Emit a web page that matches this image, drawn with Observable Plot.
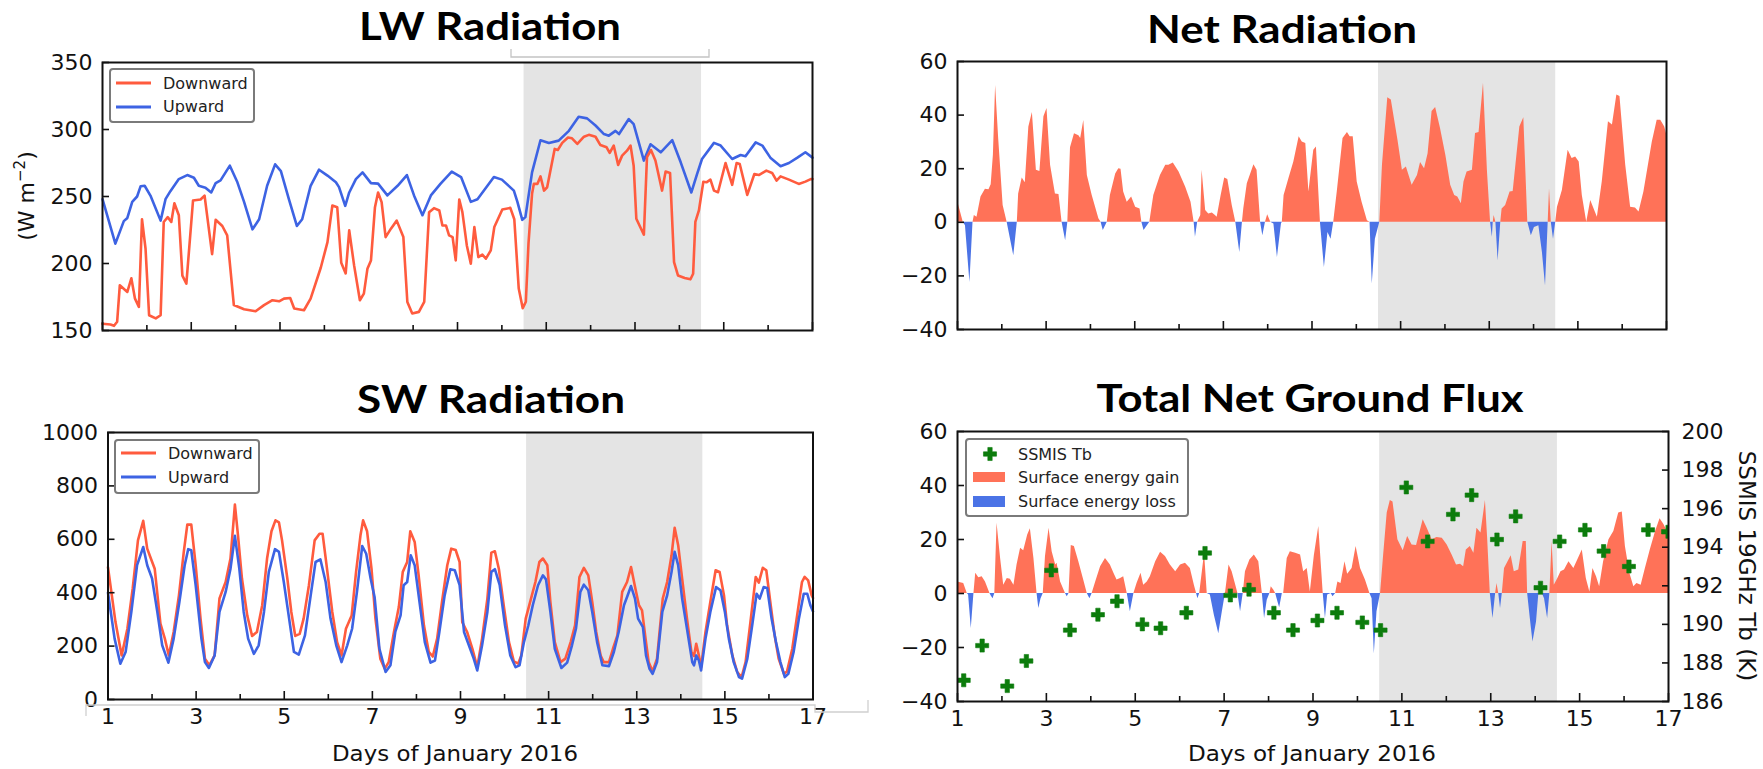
<!DOCTYPE html>
<html><head><meta charset="utf-8">
<script src="https://cdn.jsdelivr.net/npm/d3@7"></script>
<script src="https://cdn.jsdelivr.net/npm/@observablehq/plot@0.6"></script>
<style>
html,body{margin:0;padding:0;background:#fff;}
#root{position:relative;width:1763px;height:769px;overflow:hidden;background:#fff;}
#overlay{position:absolute;left:0;top:0;pointer-events:none;}
</style></head><body><div id="root"></div>
<script>
// ---------- tick labels / categories ----------
const oddDays = [1,3,5,7,9,11,13,15,17];
const evenDays = [2,4,6,8,10,12,14,16];
const lwTicks = [150,200,250,300,350];
const netTicks = [-40,-20,0,20,40,60];
const swTicks = [0,200,400,600,800,1000];
const tbTicks = [186,188,190,192,194,196,198,200];
const shadeStart = [10.5];
const shadeEnd = [14.5];

// ---------- LW Radiation ----------
const lwDownDay = [1.0,1.18,1.26,1.33,1.39,1.56,1.65,1.73,1.82,1.89,1.97,2.05,2.20,2.31,2.38,2.47,2.55,2.62,2.72,2.80,2.89,3.04,3.21,3.30,3.47,3.55,3.70,3.81,3.96,4.19,4.45,4.64,4.83,4.98,5.09,5.23,5.32,5.54,5.69,5.92,6.07,6.18,6.29,6.38,6.48,6.56,6.67,6.80,6.89,6.97,7.05,7.14,7.21,7.29,7.38,7.50,7.63,7.78,7.87,7.98,8.13,8.25,8.36,8.47,8.59,8.66,8.74,8.81,8.89,8.96,9.04,9.11,9.21,9.30,9.38,9.47,9.56,9.64,9.75,9.83,10.01,10.19,10.28,10.38,10.47,10.54,10.60,10.68,10.72,10.80,10.87,10.95,11.02,11.19,11.26,11.36,11.49,11.58,11.70,11.85,11.96,12.11,12.22,12.36,12.43,12.52,12.62,12.71,12.82,12.90,12.97,13.03,13.20,13.27,13.36,13.46,13.61,13.69,13.79,13.88,13.97,14.12,14.25,14.31,14.36,14.44,14.54,14.61,14.70,14.78,14.87,15.04,15.19,15.29,15.36,15.53,15.69,15.79,15.96,16.09,16.19,16.28,16.47,16.69,16.84,16.96,17.0];
const lwDownVal = [155,154.5,153.5,156.5,183.7,178.8,189,174,167.6,233,211,161.4,159,161.4,231,234.6,231,245,236,191,185,247,247.8,250.7,207,232.6,228,221,169,165.9,164.4,168.9,172.6,171.8,173.8,174.3,166.4,165.1,173.8,197,216,243.3,242,200.6,192.6,224.7,198.6,172.6,177.5,196,202.3,242,253,245.8,219.7,226,232,219.7,171.3,162.7,163.9,171.3,238.3,241.3,239.6,228.4,228.4,221,219.7,202.3,247.8,238.3,213.5,199.9,227.2,204.8,206.6,203.6,209.8,227.2,240.3,241.5,233,181.3,166.6,171.5,215,252,259.4,259.4,265,254.4,256.9,285.5,284.7,290,294,293.4,289.2,294.6,296,294.6,288.4,286.7,282.5,288,273.6,280.5,284.2,288,273,233.4,221.5,279.3,284.7,276.8,254.4,268.6,267.6,201,191,189.2,188.2,192.4,231,239.6,261,260.6,262.6,254.4,253.2,275,258.7,275,274.3,251.2,266.8,266,269.3,267.6,261.9,265,262.6,259.4,261.1,263,263];
const lwUpDay = [1.0,1.29,1.48,1.56,1.67,1.78,1.86,1.95,2.08,2.31,2.42,2.53,2.72,2.91,3.06,3.17,3.32,3.45,3.55,3.66,3.87,4.04,4.19,4.38,4.53,4.71,4.89,5.02,5.20,5.38,5.50,5.69,5.88,6.07,6.26,6.33,6.47,6.56,6.71,6.86,7.05,7.21,7.42,7.65,7.86,8.02,8.21,8.40,8.62,8.87,9.08,9.30,9.45,9.60,9.82,10.0,10.27,10.35,10.46,10.53,10.68,10.87,11.06,11.28,11.51,11.73,11.92,12.11,12.30,12.41,12.56,12.64,12.86,12.97,13.2,13.35,13.58,13.84,14.03,14.27,14.40,14.51,14.78,14.93,15.19,15.38,15.49,15.72,15.87,16.05,16.28,16.47,16.66,16.84,17.0];
const lwUpVal = [248,214.8,231.6,234,246,250,257.7,258,250.7,232,248,254,263,266,264,258,256.6,253,260,262,273,260.6,246,225.5,233,258,274,269,248,228,233,258,270,265.6,260.6,257,243,253,263,268,260,259.6,250.8,258,266,250.8,236,250.8,259.6,268.6,264.5,246,248,254.6,264.5,262.6,254.4,246,232.6,234.6,268,292,290,291.7,299,309.5,308.3,303,296.6,295.4,299,296.6,307.8,304,276.8,289,283,292,275.5,253,266.9,278,290,288,278,281,280,290.4,288,279,272.6,275,279,283,279];

// ---------- Net Radiation ----------
const netDay = [1.0,1.13,1.18,1.28,1.35,1.38,1.44,1.53,1.63,1.71,1.76,1.81,1.86,1.93,2.03,2.12,2.27,2.35,2.38,2.46,2.53,2.61,2.69,2.78,2.86,2.95,3.02,3.10,3.21,3.29,3.36,3.44,3.49,3.55,3.64,3.74,3.78,3.85,3.93,4.04,4.19,4.24,4.29,4.38,4.45,4.57,4.64,4.69,4.75,4.83,4.93,5.02,5.12,5.16,5.21,5.34,5.43,5.58,5.70,5.77,5.87,6.0,6.15,6.27,6.34,6.37,6.42,6.49,6.52,6.6,6.67,6.75,6.82,6.86,6.95,7.03,7.10,7.20,7.28,7.37,7.43,7.46,7.54,7.69,7.76,7.84,7.89,7.95,8.0,8.07,8.14,8.22,8.31,8.33,8.37,8.48,8.59,8.71,8.78,8.86,8.93,9.04,9.10,9.19,9.28,9.36,9.43,9.49,9.57,9.70,9.80,9.86,9.93,10.02,10.13,10.25,10.31,10.36,10.43,10.53,10.59,10.71,10.79,10.94,11.04,11.13,11.26,11.38,11.45,11.54,11.62,11.71,11.79,11.90,12.02,12.13,12.22,12.29,12.37,12.43,12.50,12.62,12.69,12.77,12.87,12.96,13.03,13.07,13.09,13.11,13.15,13.20,13.26,13.29,13.37,13.47,13.54,13.69,13.78,13.87,13.95,14.02,14.12,14.20,14.27,14.33,14.36,14.40,14.45,14.50,14.54,14.65,14.78,14.87,14.95,15.03,15.10,15.20,15.29,15.44,15.55,15.69,15.78,15.88,15.95,16.08,16.19,16.30,16.38,16.49,16.68,16.79,16.87,16.96,17.0];
const netVal = [8,0,-1.3,-22.5,0,2.5,1.9,9.4,12.3,12.1,14,25,51,31,6.3,0,-12.5,0,10.6,16.5,14.8,35.6,41,19.4,19,39.4,42.5,21.3,10.6,10.4,0,-6.9,0,27.8,33,32.3,31.3,38,17.5,10,1.3,0,-3.1,0,10,18,20,19.8,11.3,7.5,9.4,5.6,5,0,-3.1,0,10,17.5,21.3,21.3,22.1,18.8,13.1,7.5,0,-5.6,0,2.5,19.4,4.4,3.1,3.5,2.5,1.9,10,16.5,16,6.3,0,-11.3,0,5,14.4,21.5,19.4,0,-5,0,2.8,0,-0.6,-13.1,-0.6,0,10,16.3,22.5,31.9,30,29.4,11.3,26.9,28.1,0,-16.9,-3.8,-6.3,0,11.3,31.3,33.5,31.9,31.9,15,7.5,0.6,0,-23,-6.3,0,21.3,46.5,45.6,30.6,19.4,20.6,13.8,17.5,22.3,20,25.6,41.3,42.8,35,25,13.8,10,9.4,6.9,15,18.8,19.4,33.1,33.5,51.9,18.8,0,-5.6,0,2.5,0,-14.4,0,5,6.3,11.3,11.5,35.6,39,0,-5,-1.9,-1.3,-11.3,-23.8,0,12.5,0,-6.3,0,5.6,11.9,26.9,23.8,24.4,22.5,10,0,8.1,1.9,15,37.5,36.3,47.5,46.9,21.3,5.6,5.3,3.8,11.3,30,38.1,38.1,35.6,33];

// ---------- SW Radiation ----------
const swDownDay = [1.0,1.17,1.31,1.44,1.56,1.68,1.80,1.89,1.96,2.06,2.19,2.29,2.38,2.49,2.61,2.72,2.80,2.89,2.99,3.10,3.20,3.30,3.42,3.53,3.67,3.78,3.88,3.95,4.04,4.16,4.27,4.38,4.50,4.61,4.71,4.80,4.88,4.95,5.07,5.16,5.25,5.35,5.44,5.56,5.69,5.80,5.87,5.97,6.09,6.20,6.30,6.40,6.53,6.63,6.73,6.79,6.88,6.98,7.07,7.18,7.28,7.37,7.49,7.60,7.69,7.79,7.86,7.96,8.05,8.17,8.28,8.37,8.47,8.58,8.70,8.79,8.89,8.98,9.04,9.15,9.27,9.38,9.49,9.61,9.70,9.78,9.87,9.98,10.1,10.21,10.31,10.38,10.48,10.59,10.70,10.79,10.87,10.97,11.04,11.14,11.27,11.38,11.50,11.60,11.70,11.80,11.90,11.99,12.08,12.18,12.25,12.37,12.46,12.56,12.67,12.78,12.87,12.97,13.05,13.12,13.2,13.27,13.36,13.46,13.59,13.69,13.79,13.86,13.94,14.03,14.14,14.24,14.30,14.35,14.41,14.46,14.56,14.67,14.79,14.88,14.98,15.05,15.17,15.28,15.38,15.47,15.58,15.70,15.77,15.86,15.94,16.04,16.13,16.22,16.34,16.41,16.53,16.64,16.75,16.81,16.89,16.97,17.0];
const swDownVal = [495,290,165,265,415,596,669,565,534,490,284,228,165,253,390,553,655,655,503,303,153,128,165,378,440,528,730,615,453,315,238,253,353,528,630,671,663,596,453,328,238,246,303,428,596,621,621,490,328,215,165,265,315,478,615,671,630,490,303,153,115,140,253,346,478,515,630,590,465,278,178,161,228,365,503,565,560,515,290,253,190,121,228,378,550,555,490,353,215,143,134,165,303,371,440,515,528,503,365,215,140,153,215,278,459,493,465,365,253,165,140,140,190,240,403,440,496,415,353,334,228,140,105,153,378,440,540,643,578,453,303,178,163,209,165,121,253,365,484,478,390,278,165,103,84,140,290,459,438,493,484,353,240,153,96,105,190,315,440,459,446,390,380];
const swUpDay = [1.0,1.15,1.28,1.40,1.53,1.66,1.80,1.89,2.0,2.12,2.23,2.37,2.49,2.62,2.74,2.82,2.89,2.99,3.12,3.20,3.29,3.42,3.53,3.67,3.78,3.88,3.98,4.08,4.18,4.31,4.42,4.54,4.65,4.79,4.88,4.99,5.10,5.22,5.33,5.47,5.60,5.71,5.82,5.94,6.05,6.18,6.30,6.43,6.54,6.65,6.77,6.86,6.96,7.05,7.16,7.30,7.41,7.52,7.64,7.71,7.79,7.87,7.96,8.07,8.19,8.32,8.42,8.52,8.64,8.77,8.87,8.98,9.08,9.19,9.30,9.38,9.49,9.61,9.70,9.78,9.89,10.01,10.13,10.25,10.34,10.44,10.54,10.64,10.76,10.87,10.94,11.04,11.14,11.29,11.42,11.53,11.62,11.72,11.80,11.90,11.99,12.10,12.22,12.37,12.48,12.59,12.71,12.78,12.87,12.96,13.03,13.14,13.21,13.29,13.36,13.46,13.58,13.69,13.79,13.86,13.94,14.03,14.14,14.26,14.30,14.35,14.41,14.46,14.56,14.67,14.80,14.90,15.0,15.09,15.20,15.32,15.39,15.51,15.62,15.72,15.79,15.88,15.96,16.06,16.16,16.26,16.36,16.44,16.56,16.68,16.79,16.87,16.94,17.0];
const swUpVal = [400,228,134,178,328,503,571,503,453,328,203,138,228,365,503,563,559,428,228,140,118,165,328,403,490,613,490,328,228,171,203,328,478,563,553,440,315,178,168,240,390,515,525,440,303,203,140,203,265,403,575,546,453,384,190,103,128,253,315,428,440,540,503,365,215,138,146,253,390,488,484,428,253,203,153,109,203,328,478,488,428,278,165,121,128,215,278,353,428,465,450,328,190,118,138,203,265,403,430,409,328,215,128,125,178,253,353,384,425,378,303,271,165,115,96,140,328,390,478,553,503,378,265,140,128,165,146,109,228,328,421,409,328,228,140,84,78,153,278,396,378,421,418,303,215,140,84,96,178,303,396,396,353,330];

// ---------- Total Net Ground Flux ----------
const gndDay = [1.0,1.14,1.22,1.25,1.31,1.37,1.41,1.48,1.555,1.63,1.73,1.76,1.80,1.84,1.89,1.97,2.04,2.12,2.19,2.27,2.34,2.42,2.49,2.58,2.64,2.72,2.79,2.83,2.88,2.93,2.98,3.06,3.13,3.21,3.24,3.32,3.43,3.47,3.51,3.56,3.63,3.73,3.84,3.92,3.98,4.03,4.11,4.22,4.33,4.44,4.52,4.59,4.67,4.74,4.82,4.89,4.97,5.04,5.13,5.19,5.27,5.34,5.46,5.57,5.68,5.79,5.91,6.02,6.13,6.24,6.33,6.38,6.41,6.45,6.51,6.56,6.62,6.69,6.78,6.88,6.96,7.03,7.11,7.18,7.28,7.31,7.37,7.43,7.48,7.58,7.68,7.78,7.86,7.91,7.97,8.03,8.06,8.12,8.16,8.21,8.25,8.31,8.34,8.42,8.49,8.61,8.72,8.79,8.87,8.94,9.03,9.13,9.23,9.28,9.33,9.41,9.45,9.51,9.56,9.63,9.72,9.78,9.88,9.97,10.07,10.18,10.28,10.33,10.38,10.44,10.52,10.59,10.67,10.74,10.80,10.91,11.03,11.13,11.23,11.33,11.48,11.57,11.68,11.79,11.91,12.02,12.13,12.23,12.32,12.39,12.45,12.54,12.62,12.69,12.78,12.88,12.93,12.99,13.05,13.11,13.14,13.18,13.22,13.26,13.31,13.41,13.46,13.53,13.63,13.73,13.80,13.83,13.89,13.95,14.03,14.08,14.16,14.21,14.28,14.33,14.38,14.43,14.51,14.58,14.66,14.76,14.87,14.94,15.06,15.15,15.23,15.30,15.38,15.45,15.54,15.66,15.77,15.88,15.96,16.03,16.13,16.22,16.29,16.385,16.48,16.59,16.71,16.81,16.90,17.0];
const gndVal = [4.3,3.7,0,-0.6,-13,0,7.5,5.8,6.2,4.3,0,-0.9,-1.9,0,26,13,3.1,5.6,5.3,3.1,10.6,16.8,15.8,21.7,24,13,0,-5.6,-1.9,0,13.7,24.2,15.5,10.6,11.2,4.3,0,-1.2,0,17.8,17.4,11.8,5,0,-1.9,0,4.3,9.9,13,10.6,7.5,5,5.6,6.2,0,-6.8,0,3.7,7.5,3.1,4.3,6.2,11.8,15.3,13.7,10.6,8.1,10.6,11.2,9.3,3.1,0,-1.9,0,8.1,14.9,0,-0.6,-8.1,-14.9,-6.8,0,10.6,8.1,1.9,0,-6.8,0,8.1,12.4,14.3,11.8,0,-9.3,-2.5,0,2.5,1.2,0,-3.1,-5.3,0,0,13,15.5,14.9,14.3,8.1,9.3,0.6,14,24.8,0,-9.3,-0.6,0,-1.2,0,4.3,3.7,11.8,7.1,9.3,17.4,9.3,5,0,-1.9,-22.4,-6.8,0,14.3,29.8,34.4,33.9,19.9,15.8,21.1,18,17.8,27.3,24.2,19.9,20.7,20.5,18,14.3,10.6,10.8,9.9,16.1,17.4,14.9,24.2,22.4,34.4,20.5,0,-9.3,0,3.7,0,-5.6,0,9.3,12.4,14,8.1,8.7,19.3,19.3,0,-9.3,-18,-10.6,-0.6,0,-1.9,-9.3,0,19.3,3.1,5.6,8.1,8.7,11.8,9.3,11.8,16.1,5.6,0.6,9.3,6.2,2.5,11.8,19.9,23,29.8,30.2,17.4,7.5,2.5,3.7,3.1,9.3,16.1,23,27.7,25.5,22];
const tbDay = [1.14,1.555,2.12,2.55,3.11,3.53,4.16,4.59,5.16,5.57,6.15,6.57,7.14,7.56,8.12,8.55,9.1,9.54,10.11,10.52,11.10,11.58,12.15,12.57,13.14,13.56,14.12,14.55,15.12,15.54,16.11,16.54,16.99];
const tbVal = [187.1,188.9,186.8,188.1,192.8,189.7,190.5,191.2,190.0,189.8,190.6,193.7,191.5,191.8,190.6,189.7,190.2,190.6,190.1,189.7,197.1,194.3,195.7,196.7,194.4,195.6,191.9,194.3,194.9,193.8,193.0,194.9,194.8];

// ---------- colours ----------
const RED_LINE = "#ff5b3e", BLUE_LINE = "#3d63e3";
const RED_FILL = "#ff7258", BLUE_FILL = "#4b73e6";
const GREEN = "#0c7c0c", SHADE = "#e4e4e4";

// ---------- build ----------
const root = document.getElementById("root");
const zip = (xs, ys) => xs.map((d, i) => ({day: d, v: ys[i]}));
const tbToFlux = t => -40 + (t - 186) * 100 / 14;
const plainFmt = d => String(d).replace("-", "\u2212");

function panel({left, top, width, height, fx1, fx2, fy1, fy2, ydomain, yticks, marks, xlabels, extraAxes = []}) {
  const chart = Plot.plot({
    width, height,
    marginLeft: fx1, marginRight: width - fx2, marginTop: fy1, marginBottom: height - fy2,
    x: {domain: [1, 17]},
    y: {domain: ydomain},
    style: {fontFamily: "DejaVu Sans", fontSize: "22px", color: "#111", background: "transparent", overflow: "visible"},
    marks: [
      Plot.rect(shadeStart, {x1: d => d, x2: (d, i) => shadeEnd[i], fill: SHADE}),
      ...marks,
      Plot.frame({stroke: "#111", strokeWidth: 2}),
      Plot.axisX({ticks: oddDays, tickSize: -8, strokeWidth: 1.6, fill: "none", label: null}),
      Plot.axisX({ticks: evenDays, tickSize: -5, strokeWidth: 1.6, fill: "none", label: null}),
      xlabels ? Plot.axisX({ticks: oddDays, tickSize: 0, tickPadding: 9, label: null, fontSize: 22, tickFormat: plainFmt}) : null,
      Plot.axisY({ticks: yticks, tickSize: -7, strokeWidth: 1.6, fill: "none", label: null}),
      Plot.axisY({ticks: yticks, tickSize: 0, tickPadding: 10, label: null, fontSize: 22, tickFormat: plainFmt}),
      ...extraAxes
    ]
  });
  chart.style.position = "absolute";
  chart.style.left = left + "px";
  chart.style.top = top + "px";
  root.appendChild(chart);
}

// LW
panel({left: 0, top: 0, width: 880, height: 380, fx1: 102, fx2: 812, fy1: 62, fy2: 330,
  ydomain: [150, 350], yticks: lwTicks, xlabels: false,
  marks: [
    Plot.line(zip(lwUpDay, lwUpVal), {x: "day", y: "v", stroke: BLUE_LINE, strokeWidth: 2.6}),
    Plot.line(zip(lwDownDay, lwDownVal), {x: "day", y: "v", stroke: RED_LINE, strokeWidth: 2.6})
  ]});

// Net
const netData = zip(netDay, netVal);
panel({left: 880, top: 0, width: 883, height: 380, fx1: 77, fx2: 786, fy1: 61, fy2: 329,
  ydomain: [-40, 60], yticks: netTicks, xlabels: false,
  marks: [
    Plot.areaY(netData, {x: "day", y1: 0, y2: d => Math.max(d.v, 0), fill: RED_FILL}),
    Plot.areaY(netData, {x: "day", y1: 0, y2: d => Math.min(d.v, 0), fill: BLUE_FILL})
  ]});

// SW
panel({left: 0, top: 380, width: 880, height: 389, fx1: 107.5, fx2: 812.5, fy1: 52, fy2: 319,
  ydomain: [0, 1000], yticks: swTicks, xlabels: true,
  marks: [
    Plot.line(zip(swDownDay, swDownVal), {x: "day", y: "v", stroke: RED_LINE, strokeWidth: 2.6}),
    Plot.line(zip(swUpDay, swUpVal), {x: "day", y: "v", stroke: BLUE_LINE, strokeWidth: 2.6})
  ]});

// Total Net Ground Flux
const gndData = zip(gndDay, gndVal);
const tbData = zip(tbDay, tbVal);
const tbPos = tbTicks.map(tbToFlux);
panel({left: 880, top: 380, width: 883, height: 389, fx1: 77, fx2: 788, fy1: 51, fy2: 321,
  ydomain: [-40, 60], yticks: netTicks, xlabels: true,
  marks: [
    Plot.areaY(gndData, {x: "day", y1: 0, y2: d => Math.max(d.v, 0), fill: RED_FILL}),
    Plot.areaY(gndData, {x: "day", y1: 0, y2: d => Math.min(d.v, 0), fill: BLUE_FILL}),
    Plot.dot(tbData, {x: "day", y: d => tbToFlux(d.v), symbol: "cross", r: 5.5, fill: GREEN, stroke: GREEN, strokeWidth: 0.6, clip: true})
  ],
  extraAxes: [
    Plot.axisY({anchor: "right", ticks: tbPos, tickSize: -7, strokeWidth: 1.6, fill: "none", label: null}),
    Plot.axisY({anchor: "right", ticks: tbPos, tickSize: 0, tickPadding: 13, label: null, fontSize: 22,
      tickFormat: d => String(Math.round(186 + (d + 40) * 0.14))})
  ]});

// ---------- overlay: titles, axis labels, legends ----------
const NS = "http://www.w3.org/2000/svg";
const ov = document.createElementNS(NS, "svg");
ov.setAttribute("id", "overlay");
ov.setAttribute("width", 1763);
ov.setAttribute("height", 769);
function el(tag, attrs, text) {
  const e = document.createElementNS(NS, tag);
  for (const k in attrs) e.setAttribute(k, attrs[k]);
  if (text != null) e.textContent = text;
  ov.appendChild(e);
  return e;
}
const titleStyle = {"font-family": "Lato, 'Open Sans', sans-serif", "font-weight": "bold", "font-size": 38, "text-anchor": "middle", fill: "#000", lengthAdjust: "spacingAndGlyphs"};
el("text", {...titleStyle, x: 490, y: 40, textLength: 262}, "LW Radiation");
el("text", {...titleStyle, x: 1282, y: 43, textLength: 270}, "Net Radiation");
el("text", {...titleStyle, x: 491, y: 413, textLength: 268}, "SW Radiation");
el("text", {...titleStyle, x: 1310, y: 412, textLength: 427}, "Total Net Ground Flux");

const lab = {"font-family": "DejaVu Sans", "font-size": 22, fill: "#111", "text-anchor": "middle"};
el("text", {...lab, x: 455, y: 761, textLength: 246, lengthAdjust: "spacingAndGlyphs"}, "Days of January 2016");
el("text", {...lab, x: 1312, y: 761, textLength: 248, lengthAdjust: "spacingAndGlyphs"}, "Days of January 2016");
// (W m-2)
const yl = el("text", {...lab, transform: "translate(34,196) rotate(-90)"});
yl.innerHTML = '(W m<tspan dy="-9" font-size="15">\u22122</tspan><tspan dy="9">)</tspan>';
el("text", {...lab, "font-size": 23, transform: "translate(1739,566) rotate(90)"}, "SSMIS 19GHz Tb (K)");

// scan artifacts
el("path", {d: "M511,49 V57 H709 V49", fill: "none", stroke: "#c4c4c4", "stroke-width": 1.3});
el("path", {d: "M86,716 V705 H815 V712 H868 V700", fill: "none", stroke: "#d0d0d0", "stroke-width": 1.3});

// legends
const legText = {"font-family": "DejaVu Sans", "font-size": 16, fill: "#222"};
function lineLegend(x, y, w, h, lx1, lx2, rows) {
  el("rect", {x, y, width: w, height: h, rx: 3, fill: "#fff", stroke: "#7a7a7a", "stroke-width": 2});
  rows.forEach(r => {
    el("line", {x1: lx1, x2: lx2, y1: r.ly, y2: r.ly, stroke: r.color, "stroke-width": 3});
    el("text", {...legText, x: r.tx, y: r.ty}, r.label);
  });
}
lineLegend(110, 69, 144, 53, 116, 151, [
  {ly: 83, color: RED_LINE, tx: 163, ty: 89, label: "Downward"},
  {ly: 107, color: BLUE_LINE, tx: 163, ty: 112, label: "Upward"}]);
lineLegend(115, 440, 144, 53, 121, 156, [
  {ly: 453, color: RED_LINE, tx: 168, ty: 459, label: "Downward"},
  {ly: 477, color: BLUE_LINE, tx: 168, ty: 483, label: "Upward"}]);
// TNGF legend
el("rect", {x: 966, y: 439, width: 222, height: 77, rx: 3, fill: "#fff", stroke: "#7a7a7a", "stroke-width": 2});
el("path", {d: d3.symbol(d3.symbolCross, Math.PI * 5.5 * 5.5)(), transform: "translate(990,454)", fill: GREEN, stroke: GREEN, "stroke-width": 0.6});
el("rect", {x: 973, y: 472, width: 32, height: 10, fill: RED_FILL});
el("rect", {x: 973, y: 496, width: 32, height: 11, fill: BLUE_FILL});
el("text", {...legText, x: 1018, y: 460}, "SSMIS Tb");
el("text", {...legText, x: 1018, y: 483}, "Surface energy gain");
el("text", {...legText, x: 1018, y: 507}, "Surface energy loss");

root.appendChild(ov);
</script></body></html>
